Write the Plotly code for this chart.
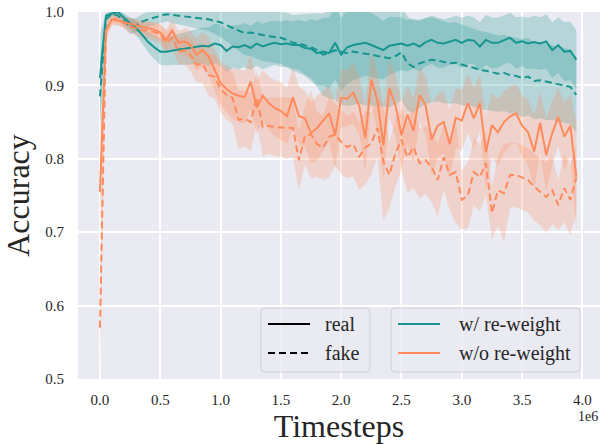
import numpy as np
import plotly.graph_objects as go

timesteps = [0.0, 0.05, 0.1, 0.15, 0.2, 0.25, 0.3, 0.35, 0.4, 0.45,
             0.5, 0.55, 0.6, 0.65, 0.7, 0.75, 0.8, 0.85, 0.9, 0.95,
             1.0, 1.05, 1.1, 1.15, 1.2, 1.25, 1.3, 1.35, 1.4, 1.45,
             1.5, 1.55, 1.6, 1.65, 1.7, 1.75, 1.8, 1.85, 1.9, 1.95,
             2.0, 2.05, 2.1, 2.15, 2.2, 2.25, 2.3, 2.35, 2.4, 2.45,
             2.5, 2.55, 2.6, 2.65, 2.7, 2.75, 2.8, 2.85, 2.9, 2.95,
             3.0, 3.05, 3.1, 3.15, 3.2, 3.25, 3.3, 3.35, 3.4, 3.45,
             3.5, 3.55, 3.6, 3.65, 3.7, 3.75, 3.8, 3.85, 3.9, 3.95]

rw_real = [0.910, 0.995, 0.998, 1.000, 0.992, 0.985, 0.978, 0.969, 0.959, 0.952,
           0.946, 0.946, 0.948, 0.949, 0.950, 0.951, 0.952, 0.954, 0.953, 0.957,
           0.955, 0.947, 0.953, 0.952, 0.955, 0.951, 0.957, 0.953, 0.956, 0.958,
           0.956, 0.957, 0.955, 0.955, 0.951, 0.950, 0.944, 0.946, 0.944, 0.958,
           0.942, 0.952, 0.955, 0.957, 0.958, 0.955, 0.952, 0.948, 0.954, 0.955,
           0.957, 0.954, 0.957, 0.953, 0.959, 0.962, 0.958, 0.957, 0.960, 0.962,
           0.958, 0.962, 0.961, 0.953, 0.962, 0.958, 0.958, 0.962, 0.965, 0.958,
           0.960, 0.957, 0.959, 0.957, 0.960, 0.948, 0.955, 0.946, 0.947, 0.935]
rw_real_std = [0.060, 0.004, 0.003, 0.004, 0.006, 0.008, 0.010, 0.012, 0.014, 0.016,
               0.018, 0.019, 0.020, 0.021, 0.022, 0.023, 0.024, 0.025, 0.026, 0.027,
               0.028, 0.029, 0.029, 0.030, 0.030, 0.030, 0.030, 0.031, 0.031, 0.030,
               0.031, 0.032, 0.032, 0.034, 0.036, 0.040, 0.044, 0.046, 0.048, 0.050,
               0.050, 0.050, 0.048, 0.047, 0.045, 0.044, 0.042, 0.040, 0.040, 0.038,
               0.036, 0.035, 0.034, 0.034, 0.033, 0.033, 0.034, 0.033, 0.032, 0.033,
               0.034, 0.033, 0.032, 0.033, 0.034, 0.035, 0.034, 0.033, 0.034, 0.035,
               0.034, 0.035, 0.036, 0.036, 0.037, 0.038, 0.038, 0.040, 0.040, 0.040]

rw_fake = [0.885, 0.990, 0.998, 0.995, 0.988, 0.980, 0.982, 0.987, 0.990, 0.992,
           0.994, 0.997, 0.996, 0.995, 0.994, 0.993, 0.992, 0.991, 0.990, 0.988,
           0.986, 0.982, 0.978, 0.975, 0.971, 0.972, 0.970, 0.968, 0.967, 0.966,
           0.965, 0.962, 0.958, 0.957, 0.955, 0.952, 0.948, 0.942, 0.944, 0.948,
           0.946, 0.944, 0.946, 0.945, 0.943, 0.942, 0.940, 0.939, 0.937, 0.940,
           0.945, 0.930, 0.925, 0.930, 0.933, 0.935, 0.934, 0.932, 0.930, 0.931,
           0.928, 0.926, 0.924, 0.921, 0.920, 0.918, 0.916, 0.917, 0.914, 0.913,
           0.910, 0.912, 0.906, 0.907, 0.905, 0.904, 0.902, 0.900, 0.898, 0.887]
rw_fake_std = [0.050, 0.006, 0.004, 0.005, 0.008, 0.010, 0.010, 0.010, 0.010, 0.010,
               0.010, 0.010, 0.011, 0.012, 0.012, 0.013, 0.014, 0.015, 0.016, 0.018,
               0.020, 0.022, 0.025, 0.028, 0.030, 0.032, 0.034, 0.035, 0.035, 0.035,
               0.036, 0.037, 0.038, 0.040, 0.042, 0.046, 0.050, 0.056, 0.062, 0.068,
               0.072, 0.072, 0.072, 0.070, 0.070, 0.070, 0.068, 0.068, 0.066, 0.066,
               0.065, 0.064, 0.063, 0.060, 0.058, 0.058, 0.056, 0.056, 0.055, 0.055,
               0.055, 0.054, 0.053, 0.053, 0.053, 0.052, 0.052, 0.052, 0.052, 0.052,
               0.053, 0.053, 0.052, 0.052, 0.052, 0.051, 0.051, 0.051, 0.051, 0.051]

norw_real = [0.755, 0.975, 0.990, 0.988, 0.986, 0.985, 0.982, 0.980, 0.978, 0.976,
             0.972, 0.962, 0.975, 0.958, 0.960, 0.955, 0.942, 0.948, 0.940, 0.922,
             0.903, 0.895, 0.889, 0.886, 0.884, 0.905, 0.870, 0.886, 0.876, 0.869,
             0.865, 0.858, 0.884, 0.858, 0.855, 0.835, 0.842, 0.852, 0.862, 0.832,
             0.883, 0.882, 0.890, 0.872, 0.828, 0.908, 0.880, 0.818, 0.896, 0.873,
             0.832, 0.860, 0.838, 0.887, 0.873, 0.826, 0.845, 0.850, 0.820, 0.856,
             0.852, 0.876, 0.855, 0.876, 0.809, 0.846, 0.836, 0.850, 0.858, 0.862,
             0.845, 0.836, 0.810, 0.849, 0.805, 0.835, 0.857, 0.830, 0.845, 0.775]
norw_real_std = [0.070, 0.010, 0.006, 0.006, 0.007, 0.008, 0.008, 0.009, 0.010, 0.010,
                 0.012, 0.014, 0.015, 0.016, 0.018, 0.020, 0.022, 0.024, 0.026, 0.028,
                 0.030, 0.032, 0.034, 0.036, 0.036, 0.038, 0.036, 0.035, 0.036, 0.038,
                 0.040, 0.038, 0.042, 0.040, 0.038, 0.042, 0.044, 0.040, 0.038, 0.045,
                 0.040, 0.038, 0.042, 0.040, 0.046, 0.038, 0.040, 0.048, 0.040, 0.042,
                 0.046, 0.040, 0.044, 0.038, 0.040, 0.048, 0.044, 0.042, 0.048, 0.040,
                 0.042, 0.040, 0.042, 0.038, 0.050, 0.044, 0.046, 0.042, 0.040, 0.040,
                 0.042, 0.044, 0.050, 0.042, 0.050, 0.044, 0.040, 0.046, 0.042, 0.075]

norw_fake = [0.570, 0.975, 0.990, 0.990, 0.985, 0.980, 0.978, 0.975, 0.975, 0.972,
             0.970, 0.958, 0.965, 0.946, 0.948, 0.942, 0.928, 0.930, 0.914, 0.912,
             0.895, 0.887, 0.883, 0.853, 0.855, 0.850, 0.884, 0.843, 0.845, 0.843,
             0.843, 0.842, 0.842, 0.798, 0.832, 0.833, 0.820, 0.815, 0.830, 0.833,
             0.823, 0.816, 0.820, 0.803, 0.815, 0.821, 0.842, 0.796, 0.778, 0.808,
             0.826, 0.802, 0.816, 0.794, 0.798, 0.789, 0.771, 0.802, 0.778, 0.782,
             0.744, 0.750, 0.782, 0.775, 0.794, 0.726, 0.757, 0.753, 0.778, 0.778,
             0.774, 0.771, 0.762, 0.755, 0.748, 0.757, 0.737, 0.760, 0.744, 0.774]
norw_fake_std = [0.080, 0.012, 0.008, 0.007, 0.008, 0.009, 0.010, 0.010, 0.011, 0.012,
                 0.013, 0.015, 0.016, 0.018, 0.020, 0.022, 0.024, 0.026, 0.028, 0.030,
                 0.032, 0.034, 0.036, 0.040, 0.038, 0.040, 0.036, 0.040, 0.038, 0.040,
                 0.040, 0.042, 0.040, 0.040, 0.040, 0.060, 0.044, 0.044, 0.055, 0.042,
                 0.044, 0.042, 0.044, 0.046, 0.050, 0.042, 0.040, 0.080, 0.045, 0.046,
                 0.042, 0.048, 0.056, 0.048, 0.046, 0.048, 0.050, 0.044, 0.048, 0.070,
                 0.040, 0.045, 0.046, 0.046, 0.044, 0.036, 0.048, 0.067, 0.044, 0.044,
                 0.044, 0.044, 0.046, 0.046, 0.048, 0.046, 0.034, 0.046, 0.048, 0.046]

x_ticks = [0.0, 0.5, 1.0, 1.5, 2.0, 2.5, 3.0, 3.5, 4.0]
x_tick_labels = ["0.0", "0.5", "1.0", "1.5", "2.0", "2.5", "3.0", "3.5", "4.0"]
y_ticks = [0.5, 0.6, 0.7, 0.8, 0.9, 1.0]
y_tick_labels = ["0.5", "0.6", "0.7", "0.8", "0.9", "1.0"]

style_labels = ["real", "fake"]
method_labels = ["w/ re-weight", "w/o re-weight"]

TEAL = "#17968f"
ORANGE = "#ff8a5b"
TEAL_FILL = "rgba(23,150,143,0.25)"
ORANGE_FILL = "rgba(255,138,91,0.25)"
FONT = "Liberation Serif"
TXT = "#262626"
DASH = "7px,4px"

# figure geometry (pixels)
W, H = 600, 444
ML, MR, MT, MB = 78, 0, 12, 65
PW, PH = W - ML - MR, H - MT - MB


def px(x):
    return (x - ML) / PW


def py(y):
    return (H - MB - y) / PH


fig = go.Figure()

bands = [
    (rw_real, rw_real_std, TEAL_FILL),
    (rw_fake, rw_fake_std, TEAL_FILL),
    (norw_real, norw_real_std, ORANGE_FILL),
    (norw_fake, norw_fake_std, ORANGE_FILL),
]
for mean, std, fill in bands:
    m = np.array(mean)
    s = np.array(std)
    fig.add_trace(go.Scatter(x=timesteps, y=m + s, mode="lines",
                             line=dict(width=0), showlegend=False, hoverinfo="skip"))
    fig.add_trace(go.Scatter(x=timesteps, y=m - s, mode="lines", fill="tonexty",
                             fillcolor=fill, line=dict(width=0),
                             showlegend=False, hoverinfo="skip"))

lines = [
    (rw_real, TEAL, "solid"),
    (rw_fake, TEAL, DASH),
    (norw_real, ORANGE, "solid"),
    (norw_fake, ORANGE, DASH),
]
for vals, col, dash in lines:
    fig.add_trace(go.Scatter(x=timesteps, y=vals, mode="lines",
                             line=dict(color=col, width=2, dash=dash),
                             showlegend=False))

# ---- hand-built legends (rounded boxes like matplotlib) ----
shapes = []
annotations = []


def rounded_box(x0, y0, x1, y1, r=4):
    rx = r / PW
    ry = r / PH
    X0, X1 = px(x0), px(x1)
    Y0, Y1 = py(y0), py(y1)  # Y0 top (larger), Y1 bottom
    path = (f"M{X0+rx},{Y0} L{X1-rx},{Y0} Q{X1},{Y0} {X1},{Y0-ry} "
            f"L{X1},{Y1+ry} Q{X1},{Y1} {X1-rx},{Y1} L{X0+rx},{Y1} "
            f"Q{X0},{Y1} {X0},{Y1+ry} L{X0},{Y0-ry} Q{X0},{Y0} {X0+rx},{Y0} Z")
    return dict(type="path", path=path, xref="paper", yref="paper",
                fillcolor="rgba(234,234,242,0.8)",
                line=dict(color="#d0d0d8", width=1), layer="above")


legend_specs = [
    (261, 370, 268, 323,
     [(style_labels[0], "black", "solid"), (style_labels[1], "black", DASH)]),
    (391, 580, 398, 457,
     [(method_labels[0], TEAL, "solid"), (method_labels[1], ORANGE, "solid")]),
]
row_y = [324, 353]
for bx0, bx1, lx0, tx0, items in legend_specs:
    shapes.append(rounded_box(bx0, 308, bx1, 372))
    for (label, col, dash), ry_ in zip(items, row_y):
        shapes.append(dict(type="line", xref="paper", yref="paper",
                           x0=px(lx0), x1=px(lx0 + 42), y0=py(ry_), y1=py(ry_),
                           line=dict(color=col, width=2, dash=dash), layer="above"))
        annotations.append(dict(text=label, x=px(tx0), y=py(ry_), xref="paper", yref="paper",
                                xanchor="left", yanchor="middle", showarrow=False,
                                font=dict(family=FONT, size=20, color=TXT)))

annotations.append(dict(text="1e6", x=px(588), y=py(416), xref="paper", yref="paper",
                        xanchor="center", yanchor="middle", showarrow=False,
                        font=dict(family=FONT, size=14, color=TXT)))

fig.update_layout(
    width=W, height=H,
    margin=dict(l=ML, r=MR, t=MT, b=MB),
    paper_bgcolor="white",
    plot_bgcolor="#EAEAF2",
    font=dict(family=FONT, color=TXT),
    showlegend=False,
    xaxis=dict(range=[-0.182, 4.146], tickvals=x_ticks, ticktext=x_tick_labels,
               showgrid=True, gridcolor="white", gridwidth=1.5, zeroline=False,
               showline=False, ticks="outside", ticklen=7, tickcolor="rgba(0,0,0,0)",
               automargin=False, ticklabeloverflow="allow",
               tickfont=dict(family=FONT, size=15, color=TXT),
               title=dict(text="Timesteps", font=dict(family=FONT, size=32, color=TXT),
                          standoff=3)),
    yaxis=dict(range=[0.5, 1.0], tickvals=y_ticks, ticktext=y_tick_labels,
               showgrid=True, gridcolor="white", gridwidth=1.5, zeroline=False,
               showline=False, ticks="outside", ticklen=10, tickcolor="rgba(0,0,0,0)",
               automargin=False, ticklabeloverflow="allow",
               tickfont=dict(family=FONT, size=15, color=TXT),
               title=dict(text="Accuracy", font=dict(family=FONT, size=32, color=TXT),
                          standoff=6)),
    shapes=shapes,
    annotations=annotations,
)

fig.write_html("out.html", config={"displayModeBar": False},
               post_script="document.body.style.margin='0';document.body.style.overflow='hidden';")
